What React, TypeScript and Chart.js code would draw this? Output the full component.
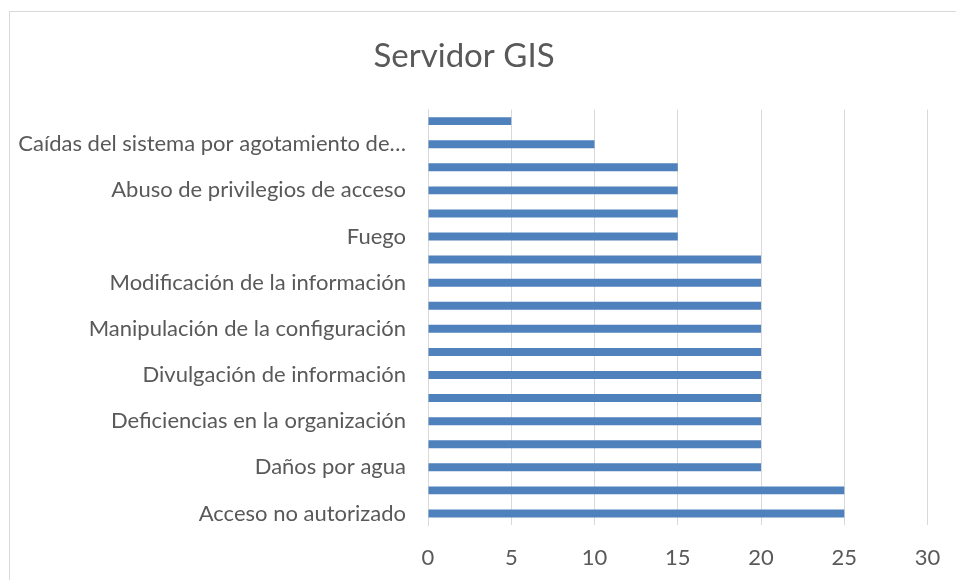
import React, { useEffect, useRef } from "react";
import { Chart, registerables } from "chart.js";

Chart.register(...registerables);

const chartTitle = "Servidor GIS";

// Category order: index 0 is the bottom bar (as in the original spreadsheet)
const categories: string[] = [
  "Acceso no autorizado",
  "Ataque destructivo",
  "Daños por agua",
  "Degradación de los soportes de almacenamiento",
  "Deficiencias en la organización",
  "Denegación de servicio",
  "Divulgación de información",
  "Errores del administrador",
  "Manipulación de la configuración",
  "Manipulación de los equipos",
  "Modificación de la información",
  "Robo",
  "Fuego",
  "Fugas de información",
  "Abuso de privilegios de acceso",
  "Errores de los usuarios",
  "Caídas del sistema por agotamiento de recursos",
  "Avería de origen físico o lógico",
];

const values: number[] = [25, 25, 20, 20, 20, 20, 20, 20, 20, 20, 20, 20, 15, 15, 15, 15, 10, 5];

const xMin = 0;
const xMax = 30;
const xStep = 5;

const TEXT = "#595959";
const GRID = "#D9D9D9";
const BAR = "#4F81BD";
const FONT = "Lato, 'Open Sans', sans-serif";

const framePlugin = {
  id: "frame",
  beforeDraw(chart: any) {
    const ctx = chart.ctx;
    ctx.save();
    ctx.fillStyle = "#ffffff";
    ctx.fillRect(0, 0, chart.width, chart.height);
    ctx.strokeStyle = GRID;
    ctx.lineWidth = 1;
    ctx.strokeRect(9.5, 11.5, 2000, 2000);
    ctx.restore();
  },
};

function shorten(label: string): string {
  const max = 38;
  return label.length > max ? label.slice(0, max).trimEnd() + "…" : label;
}

export default function App() {
  const ref = useRef<HTMLCanvasElement | null>(null);

  useEffect(() => {
    if (!ref.current) return;
    const chart = new Chart(ref.current, {
      type: "bar",
      data: {
        labels: categories,
        datasets: [
          {
            data: values,
            backgroundColor: BAR,
            borderWidth: 0,
            barPercentage: 0.345,
            categoryPercentage: 1,
          },
        ],
      },
      plugins: [framePlugin],
      options: {
        indexAxis: "y",
        responsive: false,
        animation: false,
        layout: { padding: { left: 0, right: 28, top: 12, bottom: 0 } },
        plugins: {
          legend: { display: false },
          tooltip: { enabled: false },
          title: {
            display: true,
            text: chartTitle,
            color: TEXT,
            font: { family: FONT, size: 33, weight: "normal" },
            padding: { top: 25, bottom: 33 },
          },
        },
        scales: {
          x: {
            type: "linear",
            min: xMin,
            max: xMax,
            afterFit(scale: any) {
              scale.height = 55;
            },
            ticks: {
              stepSize: xStep,
              color: TEXT,
              padding: 15.7,
              maxRotation: 0,
              font: { family: FONT, size: 22, lineHeight: 1.6 },
            },
            grid: { color: GRID, drawTicks: false, lineWidth: 1 },
            border: { display: false },
          },
          y: {
            type: "category",
            reverse: true,
            afterFit(scale: any) {
              scale.width = 428;
            },
            ticks: {
              autoSkip: false,
              color: TEXT,
              padding: 22,
              font: { family: FONT, size: 22 },
              callback(this: any, _v: any, index: number) {
                if (index % 2 !== 0) return "";
                return shorten(categories[index]);
              },
            },
            grid: { display: false, drawTicks: false },
            border: { display: true, color: GRID, width: 1 },
          },
        },
      },
    });
    return () => chart.destroy();
  }, []);

  return (
    <div style={{ position: "fixed", left: 0, top: 0, width: 956, height: 580, overflow: "hidden", background: "#fff" }}>
      <canvas ref={ref} width={956} height={580} style={{ display: "block" }} />
    </div>
  );
}
